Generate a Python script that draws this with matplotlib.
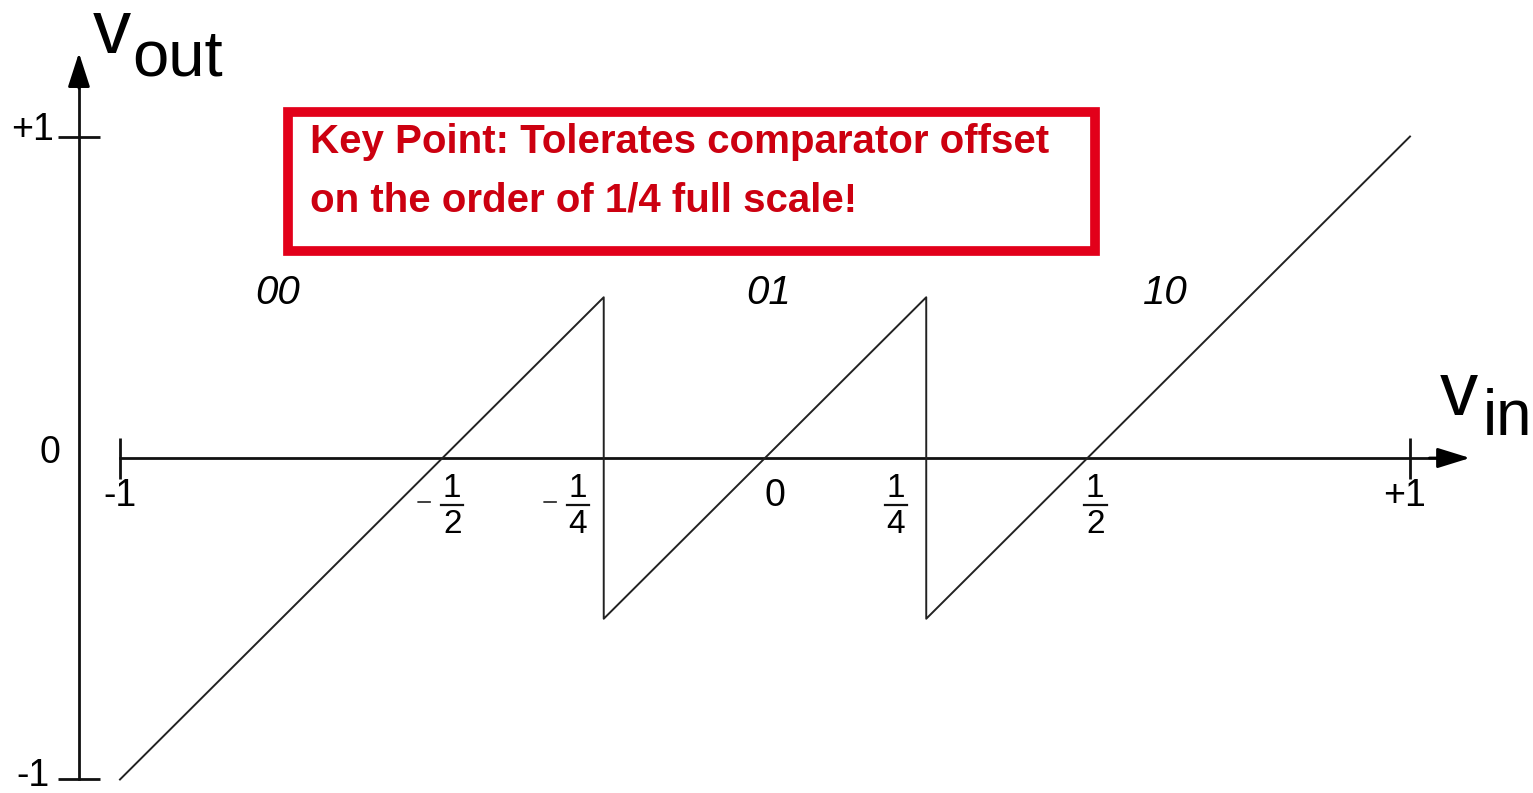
import matplotlib.pyplot as plt

plt.rcParams['font.family'] = ['Liberation Sans', 'DejaVu Sans']

# residue transfer curve of the 1.5-bit stage
vin = [-1, -1/4, -1/4, 1/4, 1/4, 1]
vout = [-1, 1/2, -1/2, 1/2, -1/2, 1]

# output codes of each region
codes = ['00', '01', '10']
code_x = [-0.755, 0.005, 0.62]

# axis ticks
x_ticks = [-1, 1]
y_ticks = [-1, 1]

# plain x labels
x_labels = ['-1', '0', '+1']
x_label_pos = [-1.0, 0.016, 0.992]

# fraction x labels, set by hand
frac_sign = ['-', '-', '', '']
frac_num = ['1', '1', '1', '1']
frac_den = ['2', '4', '4', '2']
frac_x = [-0.485, -0.29, 0.203, 0.512]

y_labels = ['-1', '0', '+1']
y_label_x = [-1.135, -1.1085, -1.135]
y_label_y = [-0.989, 0.0156, 1.0187]

fig = plt.figure(figsize=(15.33, 7.93), dpi=100)
ax = fig.add_axes([0, 0, 1, 1])
ax.set_xlim(-1.186, 1.1907)
ax.set_ylim(-1.042, 1.4246)
ax.axis('off')

yax_x = -1.0636

# axes with arrowheads
ax.plot([-1, 1.05], [0, 0], color='#111111', lw=2)
ax.plot([yax_x, yax_x], [-1, 1.2], color='#111111', lw=2)
ax.annotate('', xy=(1.093, 0), xytext=(1.03, 0),
            arrowprops=dict(arrowstyle='-|>,head_length=2.0,head_width=0.62',
                            color='black', lw=2, shrinkA=0, shrinkB=0))
ax.annotate('', xy=(yax_x, 1.26), xytext=(yax_x, 1.15),
            arrowprops=dict(arrowstyle='-|>,head_length=2.1,head_width=0.68',
                            color='black', lw=2, shrinkA=0, shrinkB=0))

# tick marks
ax.vlines(x_ticks, -0.065, 0.062, color='#111111', lw=2)
ax.hlines(y_ticks, -1.096, -1.031, color='#111111', lw=2)

# transfer curve
ax.plot(vin, vout, color='#222222', lw=1.4)

# tick labels
for lab, xp in zip(x_labels, x_label_pos):
    ax.text(xp, -0.118, lab, fontsize=27, ha='center', va='center')
for sgn, num, den, xc in zip(frac_sign, frac_num, frac_den, frac_x):
    ax.text(xc, -0.1213, num, fontsize=24, ha='center', va='baseline')
    ax.text(xc, -0.2333, den, fontsize=24, ha='center', va='baseline')
    ax.plot([xc - 0.0175, xc + 0.0175], [-0.1462, -0.1462], color='#111111', lw=1.6)
    if sgn:
        ax.text(xc - 0.044, -0.1664, '\u2212', fontsize=20, color='#444444',
                ha='center', va='baseline')
for lab, xp, yp in zip(y_labels, y_label_x, y_label_y):
    ax.text(xp, yp, lab, fontsize=27, ha='center', va='center')

# region codes
for c, xp in zip(codes, code_x):
    ax.text(xp, 0.512, c, fontsize=29, style='italic', ha='center', va='center')

# axis titles
ax.text(-1.042, 1.2597, 'v', fontsize=55, ha='left', va='baseline')
ax.text(-0.981, 1.19, 'out', fontsize=47, ha='left', va='baseline')
ax.text(1.0465, 0.1337, 'v', fontsize=55, ha='left', va='baseline')
ax.text(1.1132, 0.0715, 'in', fontsize=46, ha='left', va='baseline')

# highlighted note
box = plt.Rectangle((-0.7395, 0.6439), 1.251, 0.4323, fill=False,
                    edgecolor='#e2001a', lw=7)
ax.add_patch(box)
note_lines = ['Key Point: Tolerates comparator offset',
              'on the order of 1/4 full scale!']
for line, yb in zip(note_lines, [0.9487, 0.7652]):
    ax.text(-0.705, yb, line, fontsize=29, fontweight='bold', color='#cc0010',
            ha='left', va='baseline')

fig.savefig('out.png', dpi=100)
